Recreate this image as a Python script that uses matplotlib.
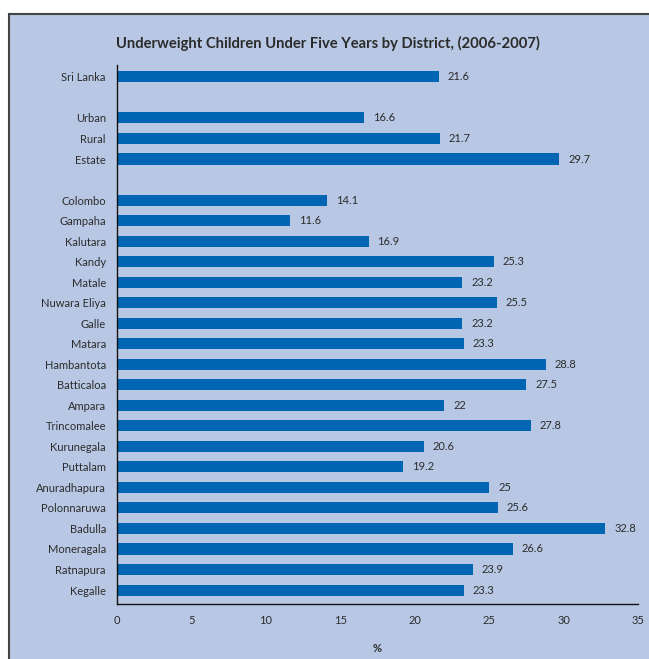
import matplotlib.pyplot as plt
from matplotlib.patches import Rectangle

# rows from top to bottom, None = blank spacer row
labels = ["Sri Lanka", "", "Urban", "Rural", "Estate", "",
          "Colombo", "Gampaha", "Kalutara", "Kandy", "Matale", "Nuwara Eliya",
          "Galle", "Matara", "Hambantota", "Batticaloa", "Ampara", "Trincomalee",
          "Kurunegala", "Puttalam", "Anuradhapura", "Polonnaruwa", "Badulla",
          "Moneragala", "Ratnapura", "Kegalle"]
values = [21.6, None, 16.6, 21.7, 29.7, None,
          14.1, 11.6, 16.9, 25.3, 23.2, 25.5,
          23.2, 23.3, 28.8, 27.5, 22, 27.8,
          20.6, 19.2, 25, 25.6, 32.8,
          26.6, 23.9, 23.3]
xticks = [0, 5, 10, 15, 20, 25, 30, 35]

bg = "#b8c8e4"
bar_color = "#0066b3"
text_color = "#2b2b2b"

plt.rcParams['font.family'] = ['Lato', 'DejaVu Sans']

fig = plt.figure(figsize=(6.49, 6.59), dpi=100)
fig.patch.set_facecolor("white")
fig.patches.append(Rectangle((9 / 649, -0.05), 1.2, 1 - 14 / 659 + 0.05,
                             transform=fig.transFigure, facecolor=bg,
                             edgecolor="#444444", linewidth=1.5, zorder=-10))

ax = fig.add_axes([117 / 649, 1 - 604 / 659, 521 / 649, 539 / 659])
ax.set_facecolor("none")

pos = [i for i, v in enumerate(values) if v is not None]
vals = [v for v in values if v is not None]
ax.barh(pos, vals, height=0.54, color=bar_color)
for p, v in zip(pos, vals):
    ax.text(v + 0.6, p, f"{v:g}", va="center", ha="left", fontsize=8, color=text_color)

ax.set_yticks(range(len(labels)))
ax.set_yticklabels(labels, fontsize=8, color=text_color)
ax.set_ylim(25.68, -0.58)
ax.set_xlim(0, 35)
ax.set_xticks(xticks)
ax.set_xticklabels([str(t) for t in xticks], fontsize=8, color=text_color)
ax.tick_params(length=0, axis="y", pad=8)
ax.tick_params(length=0, axis="x", pad=8)
for s in ["top", "right"]:
    ax.spines[s].set_visible(False)
for s in ["left", "bottom"]:
    ax.spines[s].set_color("#111111")
    ax.spines[s].set_linewidth(1.0)
ax.set_xlabel("%", fontsize=8, fontweight="bold", color=text_color, labelpad=12)

fig.text(0.505, 1 - 43 / 659, "Underweight Children Under Five Years by District, (2006-2007)",
         ha="center", va="center", fontsize=10.6, fontweight="bold", color=text_color)

fig.savefig("out.png", dpi=100)
